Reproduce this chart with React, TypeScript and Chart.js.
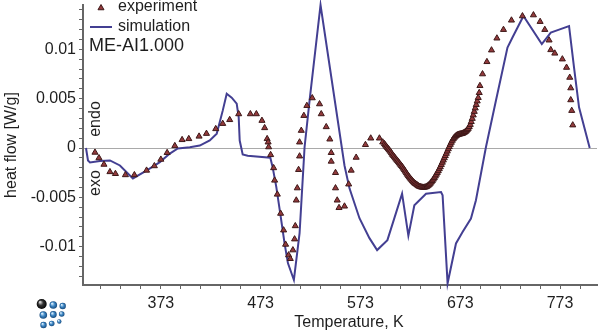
import React, { useEffect, useRef } from 'react';
import { Chart, registerables } from 'chart.js';

Chart.register(...registerables);

// ---------- data ----------
const expT = [
  307, 311, 316, 322, 327.5, 337.5, 346.5, 358.7, 366.5, 373,
  379.3, 387, 394.3, 401, 411.3, 418.7, 428, 435, 442, 451,
  462.7, 468.7, 474.3, 477, 479.5, 480.5, 481, 483, 486, 487,
  489.7, 493, 496, 498, 501, 502.7, 505.3, 507, 507.7, 508.7,
  509.7, 511, 512, 512, 513.7, 516.3, 519.3, 524.7, 532, 533.7,
  538.7, 542.3, 543.7, 543.7, 548, 548, 549.7, 551.5, 557, 561.2,
  563.7, 568.7, 578, 583.3, 592, 595.3,
  597, 598, 599, 600, 601, 602, 603, 604, 605, 606,
  607, 608, 609, 610, 611, 612, 613, 614, 615, 616,
  617, 618, 619, 620, 621, 622, 623, 624, 625, 626,
  627, 628, 629, 630, 631, 632, 633, 634, 635, 636,
  637, 638, 639, 640, 641, 642, 643, 644, 645, 646,
  647, 648, 649, 650, 651, 652, 653, 654, 655, 656,
  657, 658, 659, 660, 661, 662, 663, 664, 665, 666,
  667, 668, 669, 670, 671, 672, 673, 674, 675, 676,
  677, 678, 679, 680, 681, 682, 683, 684, 685, 686,
  687, 688, 689, 690, 691, 692,
  692.7, 695.3, 699.7, 704.3, 709.7, 716.3, 724.3, 735.3, 746.3, 753,
  757.7, 762, 763.7, 767.7, 775.3, 779.5, 782.7, 783.7, 783.7, 784.7,
  785.7,
];
const expV = [
  -0.00045, -0.00101, -0.00167, -0.00242, -0.00261, -0.00273, -0.00273, -0.00227, -0.00182, -0.00116,
  -0.00048, 0.00022, 0.00083, 0.00093, 0.00118, 0.00146, 0.00194, 0.00247, 0.00286, 0.00345,
  0.00345, 0.00345, 0.00278, 0.00204, 0.00093, 0.00059, 0.0001, -0.00069, -0.00202, -0.00328,
  -0.0047, -0.00664, -0.00833, -0.00978, -0.01086, -0.01123, -0.01035, -0.00924, -0.0079, -0.0053,
  -0.00406, -0.0022, -0.00083, 0.00059, 0.00177, 0.00328, 0.00429, 0.00507, 0.00446, 0.00345,
  0.00214, 0.00089, -0.00048, -0.00136, -0.00251, -0.00406, -0.0053, -0.00606, -0.00591, -0.00367,
  -0.00227, -0.00096, 0.00033, 0.00099, 0.00099, 0.00059,
  0.00042, 0.00028, 0.00015, 0.00002, -0.0001, -0.00022, -0.00035, -0.0005, -0.00066, -0.00078,
  -0.00091, -0.00104, -0.00116, -0.00128, -0.00141, -0.00154, -0.00167, -0.0018, -0.00192, -0.00207,
  -0.00222, -0.00237, -0.00253, -0.00268, -0.00283, -0.00296, -0.00308, -0.0032, -0.00333, -0.00344,
  -0.00354, -0.00362, -0.00369, -0.00377, -0.00384, -0.0039, -0.00394, -0.00397, -0.00399, -0.004,
  -0.00399, -0.00397, -0.00394, -0.00387, -0.00379, -0.0037, -0.00359, -0.00346, -0.00333, -0.00318,
  -0.00303, -0.00286, -0.00268, -0.0025, -0.00232, -0.00212, -0.00192, -0.00169, -0.00146, -0.00124,
  -0.00101, -0.00079, -0.00056, -0.00033, -0.0001, 0.00012, 0.00035, 0.00056, 0.00076, 0.00092,
  0.00106, 0.00117, 0.00126, 0.00132, 0.00136, 0.00139, 0.00141, 0.00144, 0.00146, 0.00151,
  0.00157, 0.00164, 0.00172, 0.00184, 0.00197, 0.00215, 0.00237, 0.00266, 0.00298, 0.00333,
  0.00369, 0.00404, 0.00439, 0.00475, 0.0051, 0.0056,
  0.00631, 0.0075, 0.00874, 0.00992, 0.01113, 0.012, 0.01295, 0.01338, 0.01348, 0.01281,
  0.012, 0.01093, 0.00995, 0.0096, 0.00901, 0.00816, 0.00715, 0.00608, 0.00487, 0.00379,
  0.00232,
];

const simT = [
  298, 300, 302, 312, 322, 332, 345, 359, 372, 382,
  390, 402, 412, 422, 429, 435, 439, 444, 449, 451,
  452, 455, 460, 482.7, 485, 488.7, 492.7, 497, 500.3, 506.3,
  512, 517, 522, 533, 557, 562, 572, 582, 589.7, 600,
  614.7, 621, 627, 638.7, 653.7, 655.3, 660.3, 668.7, 675.3, 683.7,
  688.7, 698.7, 708.7, 720.3, 725.3, 736.3, 754.7, 763.7, 772, 782,
  787, 792, 802.7,
];
const simV = [
  0, -0.00126, -0.00146, -0.00131, -0.00126, -0.00177, -0.00308, -0.00227, -0.00143, -0.00056,
  -0.00005, 0.00008, 0.00025, 0.00076, 0.00146, 0.00379, 0.0055, 0.0051, 0.0045, 0.0031,
  0.00076, -0.00066, -0.00079, -0.00099, -0.00194, -0.00396, -0.00667, -0.0097, -0.01167, -0.01338,
  -0.00864, 0.00008, 0.0048, 0.0145, -0.00177, -0.00409, -0.00712, -0.00914, -0.01035, -0.00934,
  -0.00463, -0.00889, -0.00581, -0.00463, -0.00446, -0.0048, -0.01372, -0.00968, -0.00851, -0.00715,
  -0.0053, 0.00008, 0.0048, 0.01018, 0.0112, 0.01338, 0.01053, 0.0117, 0.012, 0.01237,
  0.00816, 0.00412, 0,
];

const xMajorTicks = [373, 473, 573, 673, 773];
const yMajorTicks = [-0.01, -0.005, 0, 0.005, 0.01];
const yTickLabels = ['-0.01', '-0.005', '0', '0.005', '0.01'];
const legendLabels = ['experiment', 'simulation'];
const sampleLabel = 'ME-AI1.000';
const xTitle = 'Temperature, K';
const yTitle = 'heat flow [W/g]';
const endoLabel = 'endo';
const exoLabel = 'exo';

// ---------- styles ----------
const FONT = '"Liberation Sans", Arial, sans-serif';
const TEXT = '#1e1e1e';
const AXIS = '#666666';
const SIM_COLOR = '#433f92';
const EXP_FILL = '#933a3c';
const EXP_BORDER = '#3d1818';

function drawTri(ctx: CanvasRenderingContext2D, x: number, y: number, r: number) {
  const s = Math.sin((2 * Math.PI) / 3) * r;
  ctx.beginPath();
  ctx.moveTo(x, y - r);
  ctx.lineTo(x + s, y + r * 0.5);
  ctx.lineTo(x - s, y + r * 0.5);
  ctx.closePath();
  ctx.fillStyle = EXP_FILL;
  ctx.fill();
  ctx.strokeStyle = EXP_BORDER;
  ctx.lineWidth = 1;
  ctx.stroke();
}

function sphere(ctx: CanvasRenderingContext2D, x: number, y: number, r: number, dark: boolean) {
  const g = ctx.createRadialGradient(x - r * 0.35, y - r * 0.4, r * 0.1, x, y, r);
  if (dark) {
    g.addColorStop(0, '#d8d8d8');
    g.addColorStop(0.45, '#333333');
    g.addColorStop(1, '#050505');
  } else {
    g.addColorStop(0, '#d6ecfb');
    g.addColorStop(0.5, '#3d86c4');
    g.addColorStop(1, '#174a7c');
  }
  ctx.beginPath();
  ctx.arc(x, y, r, 0, Math.PI * 2);
  ctx.fillStyle = g;
  ctx.fill();
}

const decorPlugin = {
  id: 'decor',
  afterDraw(chart: any) {
    const ctx: CanvasRenderingContext2D = chart.ctx;
    ctx.save();
    // legend
    drawTri(ctx, 101, 8, 3.5);
    ctx.fillStyle = TEXT;
    ctx.font = `16px ${FONT}`;
    ctx.textAlign = 'left';
    ctx.textBaseline = 'middle';
    ctx.fillText(legendLabels[0], 118, 7);
    ctx.strokeStyle = SIM_COLOR;
    ctx.lineWidth = 2;
    ctx.beginPath();
    ctx.moveTo(90, 27);
    ctx.lineTo(112, 27);
    ctx.stroke();
    ctx.fillText(legendLabels[1], 118, 27);
    ctx.font = `18px ${FONT}`;
    ctx.fillText(sampleLabel, 89, 46);

    // endo / exo
    ctx.font = `16px ${FONT}`;
    ctx.textAlign = 'center';
    ctx.textBaseline = 'alphabetic';
    ctx.save();
    ctx.translate(100, 119);
    ctx.rotate(-Math.PI / 2);
    ctx.fillText(endoLabel, 0, 0);
    ctx.restore();
    ctx.save();
    ctx.translate(100, 183);
    ctx.rotate(-Math.PI / 2);
    ctx.fillText(exoLabel, 0, 0);
    ctx.restore();

    // x title
    ctx.textBaseline = 'middle';
    ctx.fillText(xTitle, 349, 323);

    // logo
    sphere(ctx, 62.7, 306, 3.2, false);
    sphere(ctx, 53.3, 305, 3.8, false);
    sphere(ctx, 61.7, 314, 2.8, false);
    sphere(ctx, 53.3, 314.5, 3.4, false);
    sphere(ctx, 43.3, 315, 3.8, false);
    sphere(ctx, 59.3, 321.5, 2.2, false);
    sphere(ctx, 51.7, 323.5, 2.8, false);
    sphere(ctx, 43.5, 325, 3.2, false);
    sphere(ctx, 41.7, 304, 5, true);
    ctx.restore();
  },
};

function near(list: number[], v: number, tol: number) {
  return list.findIndex((m) => Math.abs(m - v) < tol);
}

export default function App() {
  const ref = useRef<HTMLCanvasElement | null>(null);

  useEffect(() => {
    if (!ref.current) return;
    const chart = new Chart(ref.current, {
      type: 'scatter',
      data: {
        datasets: [
          {
            label: legendLabels[0],
            data: expT.map((t, i) => ({ x: t, y: expV[i] })),
            pointStyle: 'triangle',
            pointRadius: 3.5,
            pointBackgroundColor: EXP_FILL,
            pointBorderColor: EXP_BORDER,
            pointBorderWidth: 1,
            showLine: false,
          },
          {
            label: legendLabels[1],
            data: simT.map((t, i) => ({ x: t, y: simV[i] })),
            showLine: true,
            borderColor: SIM_COLOR,
            borderWidth: 2,
            pointRadius: 0,
            tension: 0,
            clip: false as any,
          },
        ],
      },
      options: {
        responsive: false,
        animation: false,
        devicePixelRatio: 1,
        layout: { padding: { top: 4, right: 4, left: 0, bottom: 0 } },
        plugins: {
          legend: { display: false },
          tooltip: { enabled: false },
        },
        scales: {
          x: {
            type: 'linear',
            min: 295,
            max: 810,
            afterFit: (axis: any) => {
              axis.height = 50;
              axis.paddingLeft = 0;
              axis.paddingRight = 0;
            },
            afterBuildTicks: (axis: any) => {
              const t: any[] = [];
              for (let k = 0; k <= 24; k++) t.push({ value: 313 + 20 * k });
              axis.ticks = t;
            },
            ticks: {
              autoSkip: false,
              maxRotation: 0,
              padding: 5,
              color: TEXT,
              font: { family: FONT, size: 16 },
              callback: (v: any) => (near(xMajorTicks, Number(v), 0.5) >= 0 ? String(v) : ''),
            },
            grid: {
              drawOnChartArea: false,
              drawTicks: true,
              tickLength: 4,
              tickColor: AXIS,
              tickWidth: 1,
            },
            border: { display: true, color: AXIS, width: 2 },
          },
          y: {
            type: 'linear',
            min: -0.01389,
            max: 0.0145,
            afterFit: (axis: any) => {
              axis.width = 83;
              axis.paddingTop = 0;
              axis.paddingBottom = 0;
            },
            afterBuildTicks: (axis: any) => {
              const t: any[] = [];
              for (let k = -13; k <= 14; k++) t.push({ value: k / 1000 });
              axis.ticks = t;
            },
            ticks: {
              autoSkip: false,
              padding: 3,
              color: TEXT,
              font: { family: FONT, size: 16 },
              callback: (v: any) => {
                const i = near(yMajorTicks, Number(v), 1e-7);
                return i >= 0 ? yTickLabels[i] : '';
              },
            },
            grid: {
              drawOnChartArea: true,
              drawTicks: true,
              tickLength: 4,
              tickColor: AXIS,
              color: (c: any) => (c.tick && Math.abs(c.tick.value) < 1e-9 ? '#a9a9a9' : 'rgba(0,0,0,0)'),
              lineWidth: 1,
            },
            border: { display: true, color: AXIS, width: 2 },
            title: {
              display: true,
              text: yTitle,
              color: TEXT,
              font: { family: FONT, size: 16 },
              padding: { top: 2, bottom: 0 },
            },
          },
        },
      },
      plugins: [decorPlugin],
    });
    return () => chart.destroy();
  }, []);

  return (
    <div style={{ position: 'absolute', left: 0, top: 0, width: 602, height: 335 }}>
      <canvas ref={ref} width={602} height={335} style={{ display: 'block', width: 602, height: 335 }} />
    </div>
  );
}
